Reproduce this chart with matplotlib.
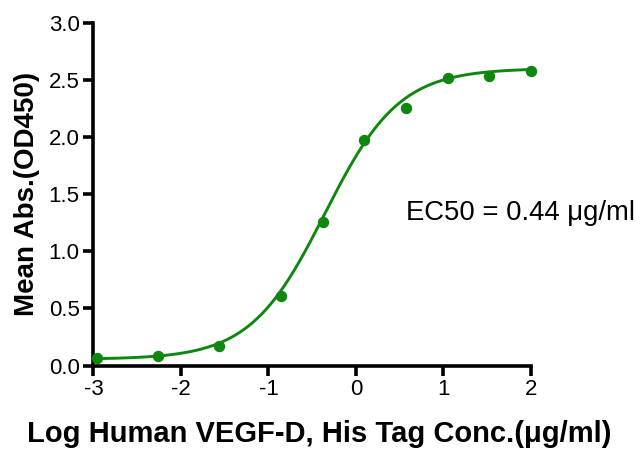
import numpy as np
import matplotlib
matplotlib.use("Agg")
import matplotlib.pyplot as plt

plt.rcParams["font.family"] = ["Liberation Sans", "DejaVu Sans"]

# measured points (log10 conc, ug/ml)
log_conc = [-2.96, -2.26, -1.56, -0.86, -0.38, 0.09, 0.57, 1.05, 1.52, 2.0]
mean_abs = [0.065, 0.08, 0.17, 0.61, 1.26, 1.97, 2.25, 2.52, 2.535, 2.58]

x_ticks = [-3, -2, -1, 0, 1, 2]
x_tick_labels = ["-3", "-2", "-1", "0", "1", "2"]
y_ticks = [0, 0.5, 1.0, 1.5, 2.0, 2.5, 3.0]
y_tick_labels = ["0.0", "0.5", "1.0", "1.5", "2.0", "2.5", "3.0"]

# 4PL fit parameters
bottom, top, log_ec50, hill = 0.055, 2.60, -0.357, 1.02

GREEN = "#0f870f"

fig = plt.figure(figsize=(6.42, 4.53), dpi=100)
ax = fig.add_axes([0.1456, 0.193, 0.827 - 0.1456, 0.757])

xs = np.linspace(-2.96, 2.0, 300)
ys = bottom + (top - bottom) / (1 + 10 ** ((log_ec50 - xs) * hill))
ax.plot(xs, ys, color=GREEN, lw=2.1, clip_on=False, zorder=3)
ax.plot(log_conc, mean_abs, "o", color=GREEN, ms=7.2, clip_on=False, zorder=4)

ax.set_xlim(-3, 2)
ax.set_ylim(0, 3)
ax.set_xticks(x_ticks)
ax.set_xticklabels(x_tick_labels)
ax.set_yticks(y_ticks)
ax.set_yticklabels(y_tick_labels)
for sp in ["top", "right"]:
    ax.spines[sp].set_visible(False)
for sp in ["left", "bottom"]:
    ax.spines[sp].set_linewidth(2.6)
ax.tick_params(width=2.6, length=7, labelsize=16, pad=3)

ax.set_xlabel("Log Human VEGF-D, His Tag Conc.(\u03bcg/ml)", fontsize=21,
              fontweight="bold")
ax.xaxis.set_label_coords(0.517, -0.16)
ax.set_ylabel("Mean Abs.(OD450)", fontsize=20, fontweight="bold", labelpad=6)

ax.text(0.575, 1.336, "EC50 = 0.44 \u03bcg/ml", fontsize=19.8, ha="left", va="center")

fig.savefig("out.png", dpi=100, facecolor="white")
